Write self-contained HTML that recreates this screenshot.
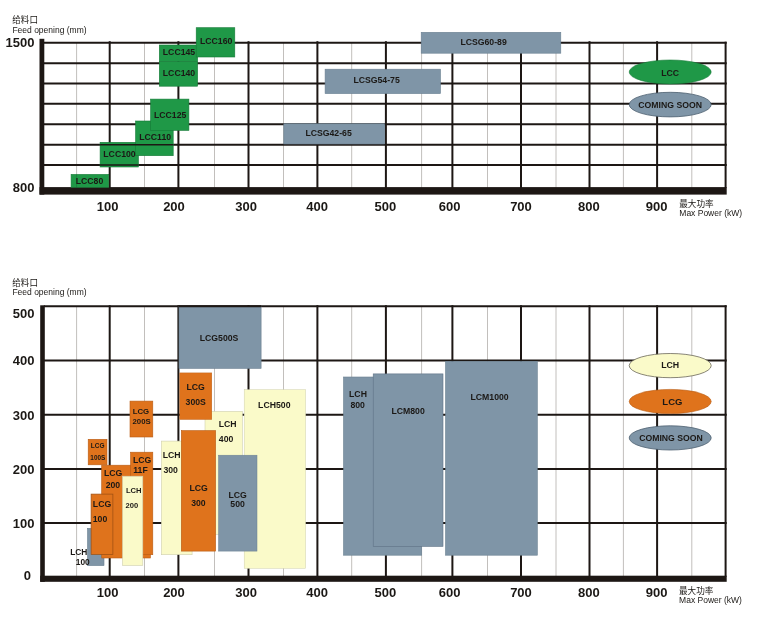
<!DOCTYPE html>
<html lang="zh">
<head>
<meta charset="utf-8">
<title>Feed opening / Max Power</title>
<style>
html,body{margin:0;padding:0;background:#fff;}
body{width:767px;height:632px;overflow:hidden;}
svg{display:block;}
text{font-family:"Liberation Sans","Noto Sans CJK SC",sans-serif;fill:#1b1815;}
text.b{font-weight:bold;}
text.n{font-weight:normal;}
text.c{font-family:"Liberation Sans","Noto Sans CJK SC",sans-serif;font-weight:normal;}
</style>
</head>
<body>
<svg width="767" height="632" viewBox="0 0 767 632">
<rect x="0" y="0" width="767" height="632" fill="#ffffff"/>
<g>
<line x1="76.6" y1="42.7" x2="76.6" y2="188.1" stroke="#c2bfbc" stroke-width="1"/>
<line x1="144.5" y1="42.7" x2="144.5" y2="188.1" stroke="#c2bfbc" stroke-width="1"/>
<line x1="214.5" y1="42.7" x2="214.5" y2="188.1" stroke="#c2bfbc" stroke-width="1"/>
<line x1="283.5" y1="42.7" x2="283.5" y2="188.1" stroke="#c2bfbc" stroke-width="1"/>
<line x1="351.7" y1="42.7" x2="351.7" y2="188.1" stroke="#c2bfbc" stroke-width="1"/>
<line x1="421.6" y1="42.7" x2="421.6" y2="188.1" stroke="#c2bfbc" stroke-width="1"/>
<line x1="487.5" y1="42.7" x2="487.5" y2="188.1" stroke="#c2bfbc" stroke-width="1"/>
<line x1="556.0" y1="42.7" x2="556.0" y2="188.1" stroke="#c2bfbc" stroke-width="1"/>
<line x1="623.4" y1="42.7" x2="623.4" y2="188.1" stroke="#c2bfbc" stroke-width="1"/>
<line x1="691.8" y1="42.7" x2="691.8" y2="188.1" stroke="#c2bfbc" stroke-width="1"/>
<line x1="109.7" y1="41.2" x2="109.7" y2="188.1" stroke="#1d1714" stroke-width="2.0"/>
<line x1="178.4" y1="41.2" x2="178.4" y2="188.1" stroke="#1d1714" stroke-width="2.0"/>
<line x1="248.5" y1="41.2" x2="248.5" y2="188.1" stroke="#1d1714" stroke-width="2.0"/>
<line x1="317.4" y1="41.2" x2="317.4" y2="188.1" stroke="#1d1714" stroke-width="2.0"/>
<line x1="385.9" y1="41.2" x2="385.9" y2="188.1" stroke="#1d1714" stroke-width="2.0"/>
<line x1="452.4" y1="41.2" x2="452.4" y2="188.1" stroke="#1d1714" stroke-width="2.0"/>
<line x1="521.0" y1="41.2" x2="521.0" y2="188.1" stroke="#1d1714" stroke-width="2.0"/>
<line x1="589.5" y1="41.2" x2="589.5" y2="188.1" stroke="#1d1714" stroke-width="2.0"/>
<line x1="657.1" y1="41.2" x2="657.1" y2="188.1" stroke="#1d1714" stroke-width="2.0"/>
<line x1="725.6" y1="41.7" x2="725.6" y2="188.1" stroke="#1d1714" stroke-width="2.0"/>
<line x1="43.3" y1="42.7" x2="726.7" y2="42.7" stroke="#1d1714" stroke-width="2.0"/>
<line x1="43.3" y1="63.2" x2="726.7" y2="63.2" stroke="#1d1714" stroke-width="2.0"/>
<line x1="43.3" y1="83.5" x2="726.7" y2="83.5" stroke="#1d1714" stroke-width="2.0"/>
<line x1="43.3" y1="103.8" x2="726.7" y2="103.8" stroke="#1d1714" stroke-width="2.0"/>
<line x1="43.3" y1="124.2" x2="726.7" y2="124.2" stroke="#1d1714" stroke-width="2.0"/>
<line x1="43.3" y1="144.8" x2="726.7" y2="144.8" stroke="#1d1714" stroke-width="2.0"/>
<line x1="43.3" y1="165.0" x2="726.7" y2="165.0" stroke="#1d1714" stroke-width="2.0"/>
<rect x="39.5" y="38.8" width="4.8" height="155.8" fill="#1d1714"/>
<rect x="39.5" y="187.1" width="687.2" height="7.5" fill="#1d1714"/>
<rect x="71.1" y="174.4" width="37.6" height="12.9" fill="#1f9847" stroke="#167a38" stroke-width="0.6"/>
<rect x="100.1" y="142.3" width="38.3" height="24.7" fill="#1f9847" stroke="#167a38" stroke-width="0.6"/>
<rect x="135.6" y="121.0" width="37.6" height="34.7" fill="#1f9847" stroke="#167a38" stroke-width="0.6"/>
<rect x="150.6" y="99.1" width="38.3" height="31.3" fill="#1f9847" stroke="#167a38" stroke-width="0.6"/>
<rect x="159.3" y="61.5" width="38.3" height="24.7" fill="#1f9847" stroke="#167a38" stroke-width="0.6"/>
<rect x="159.3" y="45.0" width="38.3" height="16.5" fill="#1f9847" stroke="#167a38" stroke-width="0.6"/>
<rect x="196.2" y="27.7" width="38.6" height="29.3" fill="#1f9847" stroke="#167a38" stroke-width="0.6"/>
<rect x="283.8" y="123.8" width="100.9" height="20.2" fill="#7f95a7" stroke="#6b8092" stroke-width="0.6"/>
<rect x="325.1" y="69.2" width="115.4" height="24.4" fill="#7f95a7" stroke="#6b8092" stroke-width="0.6"/>
<rect x="421.2" y="32.3" width="139.6" height="20.9" fill="#7f95a7" stroke="#6b8092" stroke-width="0.6"/>
<line x1="76.6" y1="174.6" x2="76.6" y2="187.2" stroke="#0f5a2a" stroke-width="1" stroke-opacity="0.35"/>
<line x1="100.1" y1="144.8" x2="173.2" y2="144.8" stroke="#1d1714" stroke-width="1.6"/>
<line x1="100.1" y1="165.0" x2="138.4" y2="165.0" stroke="#1d1714" stroke-width="1.6"/>
<ellipse cx="670.2" cy="72.0" rx="41" ry="12.0" fill="#1f9847" stroke="#167a38" stroke-width="0.6"/>
<ellipse cx="670.2" cy="104.6" rx="41" ry="12.3" fill="#7f95a7" stroke="#4d5f70" stroke-width="0.8"/>
<line x1="76.6" y1="306.3" x2="76.6" y2="576.7" stroke="#c2bfbc" stroke-width="1"/>
<line x1="144.5" y1="306.3" x2="144.5" y2="576.7" stroke="#c2bfbc" stroke-width="1"/>
<line x1="214.5" y1="306.3" x2="214.5" y2="576.7" stroke="#c2bfbc" stroke-width="1"/>
<line x1="283.5" y1="306.3" x2="283.5" y2="576.7" stroke="#c2bfbc" stroke-width="1"/>
<line x1="351.7" y1="306.3" x2="351.7" y2="576.7" stroke="#c2bfbc" stroke-width="1"/>
<line x1="421.6" y1="306.3" x2="421.6" y2="576.7" stroke="#c2bfbc" stroke-width="1"/>
<line x1="487.5" y1="306.3" x2="487.5" y2="576.7" stroke="#c2bfbc" stroke-width="1"/>
<line x1="556.0" y1="306.3" x2="556.0" y2="576.7" stroke="#c2bfbc" stroke-width="1"/>
<line x1="623.4" y1="306.3" x2="623.4" y2="576.7" stroke="#c2bfbc" stroke-width="1"/>
<line x1="691.8" y1="306.3" x2="691.8" y2="576.7" stroke="#c2bfbc" stroke-width="1"/>
<line x1="109.7" y1="305.3" x2="109.7" y2="576.7" stroke="#1d1714" stroke-width="2.0"/>
<line x1="178.4" y1="305.3" x2="178.4" y2="576.7" stroke="#1d1714" stroke-width="2.0"/>
<line x1="248.5" y1="305.3" x2="248.5" y2="576.7" stroke="#1d1714" stroke-width="2.0"/>
<line x1="317.4" y1="305.3" x2="317.4" y2="576.7" stroke="#1d1714" stroke-width="2.0"/>
<line x1="385.9" y1="305.3" x2="385.9" y2="576.7" stroke="#1d1714" stroke-width="2.0"/>
<line x1="452.4" y1="305.3" x2="452.4" y2="576.7" stroke="#1d1714" stroke-width="2.0"/>
<line x1="521.0" y1="305.3" x2="521.0" y2="576.7" stroke="#1d1714" stroke-width="2.0"/>
<line x1="589.5" y1="305.3" x2="589.5" y2="576.7" stroke="#1d1714" stroke-width="2.0"/>
<line x1="657.1" y1="305.3" x2="657.1" y2="576.7" stroke="#1d1714" stroke-width="2.0"/>
<line x1="725.6" y1="305.3" x2="725.6" y2="576.7" stroke="#1d1714" stroke-width="2.0"/>
<line x1="43.8" y1="306.3" x2="726.7" y2="306.3" stroke="#1d1714" stroke-width="2.0"/>
<line x1="43.8" y1="360.5" x2="726.7" y2="360.5" stroke="#1d1714" stroke-width="2.0"/>
<line x1="43.8" y1="414.8" x2="726.7" y2="414.8" stroke="#1d1714" stroke-width="2.0"/>
<line x1="43.8" y1="469.0" x2="726.7" y2="469.0" stroke="#1d1714" stroke-width="2.0"/>
<line x1="43.8" y1="523.0" x2="726.7" y2="523.0" stroke="#1d1714" stroke-width="2.0"/>
<rect x="40.2" y="305.3" width="4.6" height="276.5" fill="#1d1714"/>
<rect x="40.2" y="575.7" width="686.5" height="6.1" fill="#1d1714"/>
<rect x="87.5" y="528.3" width="16.5" height="37.3" fill="#7f95a7" stroke="#6b8092" stroke-width="0.6"/>
<rect x="88.2" y="439.3" width="18.8" height="25.5" fill="#df731c" stroke="#b85c14" stroke-width="0.6"/>
<rect x="101.7" y="465.2" width="48.7" height="92.8" fill="#df731c" stroke="#b85c14" stroke-width="0.6"/>
<rect x="130.6" y="452.2" width="22.2" height="102.5" fill="#df731c" stroke="#b85c14" stroke-width="0.6"/>
<rect x="91.1" y="494.1" width="21.8" height="60.3" fill="#df731c" stroke="#9a4e12" stroke-width="0.7"/>
<rect x="122.5" y="476.2" width="20.3" height="89.2" fill="#fafac9" stroke="#cfcfae" stroke-width="0.6"/>
<rect x="130.0" y="401.1" width="22.8" height="35.9" fill="#df731c" stroke="#b85c14" stroke-width="0.6"/>
<rect x="161.4" y="441.1" width="30.7" height="113.6" fill="#fafac9" stroke="#cfcfae" stroke-width="0.6"/>
<rect x="205.0" y="411.4" width="37.3" height="122.9" fill="#fafac9" stroke="#cfcfae" stroke-width="0.6"/>
<rect x="244.2" y="389.7" width="61.4" height="178.6" fill="#fafac9" stroke="#cfcfae" stroke-width="0.5"/>
<rect x="181.3" y="430.6" width="34.3" height="120.5" fill="#df731c" stroke="#b85c14" stroke-width="0.6"/>
<rect x="179.8" y="372.9" width="32.0" height="46.6" fill="#df731c" stroke="#b85c14" stroke-width="0.4"/>
<rect x="218.5" y="455.2" width="38.5" height="95.9" fill="#7f95a7" stroke="#6b8092" stroke-width="0.5"/>
<rect x="179.0" y="306.8" width="82.1" height="61.6" fill="#7f95a7" stroke="#6b8092" stroke-width="0.6"/>
<rect x="343.5" y="377.0" width="78.2" height="178.2" fill="#7f95a7" stroke="#6b8092" stroke-width="0.6"/>
<rect x="373.2" y="373.9" width="69.8" height="172.5" fill="#7f95a7" stroke="#5f7385" stroke-width="0.6"/>
<rect x="445.5" y="361.3" width="91.8" height="193.9" fill="#7f95a7" stroke="#6b8092" stroke-width="0.6"/>
<line x1="179.0" y1="306.3" x2="261.1" y2="306.3" stroke="#1d1714" stroke-width="2.0"/>
<ellipse cx="670.2" cy="365.6" rx="41" ry="12.1" fill="#fafac9" stroke="#6b675a" stroke-width="0.8"/>
<ellipse cx="670.2" cy="401.5" rx="41" ry="12.1" fill="#df731c" stroke="#b85c14" stroke-width="0.6"/>
<ellipse cx="670.2" cy="437.9" rx="41" ry="12.1" fill="#7f95a7" stroke="#4d5f70" stroke-width="0.8"/>
</g>
<g>
<text x="12.2" y="23.0" font-size="8.6" class="c" text-anchor="start">给料口</text>
<text x="12.4" y="32.5" font-size="8.5" class="n" text-anchor="start">Feed opening (mm)</text>
<text x="34.5" y="47.4" font-size="13" class="b" text-anchor="end">1500</text>
<text x="34.5" y="191.8" font-size="13" class="b" text-anchor="end">800</text>
<text x="107.7" y="210.7" font-size="13" class="b" text-anchor="middle">100</text>
<text x="107.7" y="596.8" font-size="13" class="b" text-anchor="middle">100</text>
<text x="174.0" y="210.7" font-size="13" class="b" text-anchor="middle">200</text>
<text x="174.0" y="596.8" font-size="13" class="b" text-anchor="middle">200</text>
<text x="246.1" y="210.7" font-size="13" class="b" text-anchor="middle">300</text>
<text x="246.1" y="596.8" font-size="13" class="b" text-anchor="middle">300</text>
<text x="317.2" y="210.7" font-size="13" class="b" text-anchor="middle">400</text>
<text x="317.2" y="596.8" font-size="13" class="b" text-anchor="middle">400</text>
<text x="385.3" y="210.7" font-size="13" class="b" text-anchor="middle">500</text>
<text x="385.3" y="596.8" font-size="13" class="b" text-anchor="middle">500</text>
<text x="449.6" y="210.7" font-size="13" class="b" text-anchor="middle">600</text>
<text x="449.6" y="596.8" font-size="13" class="b" text-anchor="middle">600</text>
<text x="521.0" y="210.7" font-size="13" class="b" text-anchor="middle">700</text>
<text x="521.0" y="596.8" font-size="13" class="b" text-anchor="middle">700</text>
<text x="588.8" y="210.7" font-size="13" class="b" text-anchor="middle">800</text>
<text x="588.8" y="596.8" font-size="13" class="b" text-anchor="middle">800</text>
<text x="656.7" y="210.7" font-size="13" class="b" text-anchor="middle">900</text>
<text x="656.7" y="596.8" font-size="13" class="b" text-anchor="middle">900</text>
<text x="679.2" y="206.6" font-size="8.6" class="c" text-anchor="start">最大功率</text>
<text x="679.3" y="215.9" font-size="8.5" class="n" text-anchor="start">Max Power (kW)</text>
<text x="679.0" y="593.8" font-size="8.6" class="c" text-anchor="start">最大功率</text>
<text x="679.1" y="603.3" font-size="8.5" class="n" text-anchor="start">Max Power (kW)</text>
<text x="89.5" y="184.4" font-size="8.7" class="b" text-anchor="middle">LCC80</text>
<text x="119.5" y="157.1" font-size="8.7" class="b" text-anchor="middle">LCC100</text>
<text x="155.2" y="140.2" font-size="8.7" class="b" text-anchor="middle">LCC110</text>
<text x="170.2" y="117.5" font-size="8.7" class="b" text-anchor="middle">LCC125</text>
<text x="179.0" y="75.7" font-size="8.7" class="b" text-anchor="middle">LCC140</text>
<text x="179.0" y="54.8" font-size="8.7" class="b" text-anchor="middle">LCC145</text>
<text x="216.2" y="43.8" font-size="8.7" class="b" text-anchor="middle">LCC160</text>
<text x="328.6" y="136.4" font-size="8.7" class="b" text-anchor="middle">LCSG42-65</text>
<text x="376.6" y="82.9" font-size="8.7" class="b" text-anchor="middle">LCSG54-75</text>
<text x="483.6" y="45.2" font-size="8.7" class="b" text-anchor="middle">LCSG60-89</text>
<text x="670.2" y="75.9" font-size="8.7" class="b" text-anchor="middle">LCC</text>
<text x="670.2" y="108.1" font-size="8.7" class="b" text-anchor="middle">COMING SOON</text>
<text x="12.2" y="285.6" font-size="8.6" class="c" text-anchor="start">给料口</text>
<text x="12.4" y="294.7" font-size="8.5" class="n" text-anchor="start">Feed opening (mm)</text>
<text x="34.5" y="317.6" font-size="13" class="b" text-anchor="end">500</text>
<text x="34.5" y="364.9" font-size="13" class="b" text-anchor="end">400</text>
<text x="34.5" y="419.8" font-size="13" class="b" text-anchor="end">300</text>
<text x="34.5" y="473.7" font-size="13" class="b" text-anchor="end">200</text>
<text x="34.5" y="527.9" font-size="13" class="b" text-anchor="end">100</text>
<text x="31.0" y="579.5" font-size="13" class="b" text-anchor="end">0</text>
<text x="78.8" y="555.0" font-size="8.4" class="b" text-anchor="middle">LCH</text>
<text x="82.8" y="565.4" font-size="8.4" class="b" text-anchor="middle">100</text>
<text x="97.7" y="447.9" font-size="6.5" class="b" text-anchor="middle">LCG</text>
<text x="97.8" y="459.9" font-size="6.4" class="b" text-anchor="middle">100S</text>
<text x="113.2" y="476.1" font-size="8.7" class="b" text-anchor="middle">LCG</text>
<text x="112.9" y="488.3" font-size="8.7" class="b" text-anchor="middle">200</text>
<text x="142.2" y="462.8" font-size="8.7" class="b" text-anchor="middle">LCG</text>
<text x="140.5" y="473.0" font-size="8.7" class="b" text-anchor="middle">11F</text>
<text x="102.0" y="507.1" font-size="8.7" class="b" text-anchor="middle">LCG</text>
<text x="100.0" y="521.8" font-size="8.7" class="b" text-anchor="middle">100</text>
<text x="133.7" y="493.3" font-size="7.6" class="b" text-anchor="middle">LCH</text>
<text x="131.9" y="508.4" font-size="7.6" class="b" text-anchor="middle">200</text>
<text x="140.9" y="414.0" font-size="7.8" class="b" text-anchor="middle">LCG</text>
<text x="141.6" y="423.7" font-size="7.8" class="b" text-anchor="middle">200S</text>
<text x="171.7" y="457.7" font-size="8.7" class="b" text-anchor="middle">LCH</text>
<text x="170.7" y="472.5" font-size="8.7" class="b" text-anchor="middle">300</text>
<text x="227.7" y="427.1" font-size="8.7" class="b" text-anchor="middle">LCH</text>
<text x="226.1" y="442.0" font-size="8.7" class="b" text-anchor="middle">400</text>
<text x="274.3" y="407.8" font-size="8.7" class="b" text-anchor="middle">LCH500</text>
<text x="198.6" y="491.0" font-size="8.7" class="b" text-anchor="middle">LCG</text>
<text x="198.4" y="505.8" font-size="8.7" class="b" text-anchor="middle">300</text>
<text x="195.7" y="390.4" font-size="8.7" class="b" text-anchor="middle">LCG</text>
<text x="195.7" y="405.2" font-size="8.7" class="b" text-anchor="middle">300S</text>
<text x="237.6" y="497.7" font-size="8.7" class="b" text-anchor="middle">LCG</text>
<text x="237.6" y="506.9" font-size="8.7" class="b" text-anchor="middle">500</text>
<text x="219.1" y="341.0" font-size="8.7" class="b" text-anchor="middle">LCG500S</text>
<text x="358.0" y="397.3" font-size="8.7" class="b" text-anchor="middle">LCH</text>
<text x="357.7" y="408.3" font-size="8.7" class="b" text-anchor="middle">800</text>
<text x="408.1" y="414.2" font-size="8.7" class="b" text-anchor="middle">LCM800</text>
<text x="489.6" y="400.1" font-size="8.7" class="b" text-anchor="middle">LCM1000</text>
<text x="670.2" y="368.4" font-size="8.8" class="b" text-anchor="middle">LCH</text>
<text x="672.4" y="404.7" font-size="9.5" class="b" text-anchor="middle">LCG</text>
<text x="671.0" y="440.7" font-size="8.7" class="b" text-anchor="middle">COMING SOON</text>
</g>
</svg>
</body>
</html>
